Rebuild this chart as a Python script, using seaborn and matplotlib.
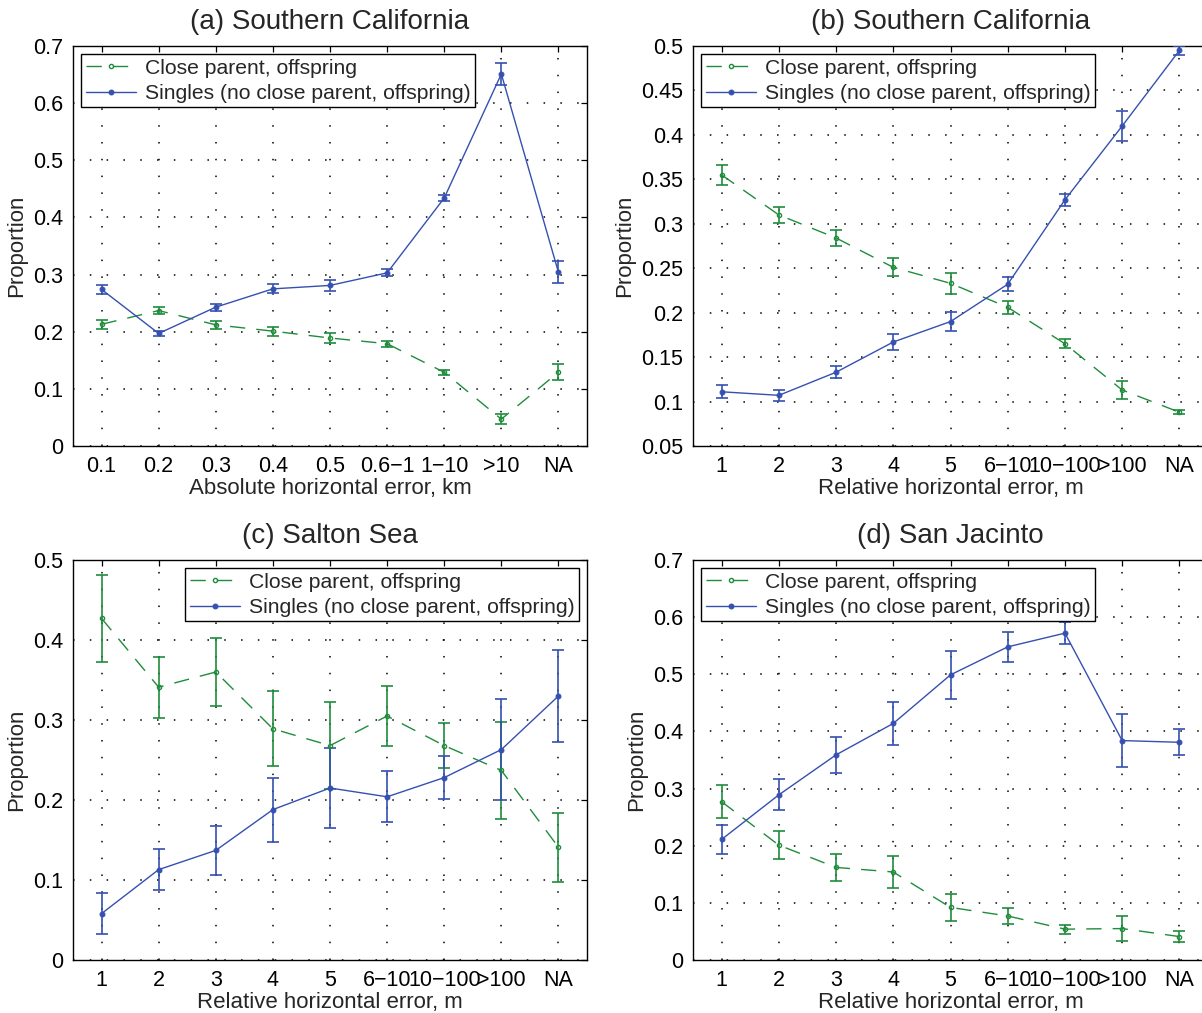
import numpy as np
import pandas as pd
import matplotlib
matplotlib.use("Agg")
import matplotlib.pyplot as plt
import seaborn as sns

# ---------------- data ----------------
labels_abs = ["0.1", "0.2", "0.3", "0.4", "0.5", "0.6\u22121", "1\u221210", ">10", "NA"]
labels_rel = ["1", "2", "3", "4", "5", "6\u221210", "10\u2212100", ">100", "NA"]

a_close = [0.213, 0.237, 0.212, 0.201, 0.189, 0.179, 0.129, 0.047, 0.129]
a_close_err = [0.0075, 0.006, 0.0075, 0.008, 0.009, 0.005, 0.004, 0.009, 0.014]
a_single = [0.274, 0.197, 0.243, 0.275, 0.281, 0.303, 0.434, 0.651, 0.304]
a_single_err = [0.008, 0.005, 0.006, 0.008, 0.010, 0.006, 0.006, 0.019, 0.019]

b_close = [0.355, 0.310, 0.284, 0.251, 0.233, 0.206, 0.165, 0.113, 0.088]
b_close_err = [0.011, 0.009, 0.0094, 0.010, 0.012, 0.0075, 0.005, 0.0105, 0.0025]
b_single = [0.111, 0.107, 0.133, 0.167, 0.190, 0.232, 0.327, 0.410, 0.495]
b_single_err = [0.0075, 0.006, 0.007, 0.009, 0.0105, 0.0077, 0.0066, 0.0165, 0.005]

c_close = [0.427, 0.341, 0.360, 0.289, 0.268, 0.305, 0.268, 0.237, 0.141]
c_close_err = [0.054, 0.038, 0.043, 0.047, 0.054, 0.037, 0.028, 0.061, 0.043]
c_single = [0.058, 0.113, 0.137, 0.188, 0.215, 0.204, 0.228, 0.263, 0.330]
c_single_err = [0.026, 0.0255, 0.031, 0.040, 0.0496, 0.032, 0.0265, 0.063, 0.057]

d_close = [0.277, 0.201, 0.162, 0.154, 0.092, 0.077, 0.054, 0.055, 0.041]
d_close_err = [0.029, 0.024, 0.024, 0.028, 0.024, 0.0134, 0.008, 0.022, 0.009]
d_single = [0.211, 0.289, 0.359, 0.414, 0.499, 0.548, 0.572, 0.384, 0.381]
d_single_err = [0.026, 0.027, 0.031, 0.037, 0.042, 0.026, 0.019, 0.047, 0.023]

titles = ["(a) Southern California", "(b) Southern California",
          "(c) Salton Sea", "(d) San Jacinto"]
xlabels = ["Absolute horizontal error, km", "Relative horizontal error, m",
           "Relative horizontal error, m", "Relative horizontal error, m"]
legend_labels = ["Close parent, offspring", "Singles (no close parent, offspring)"]

# ---------------- style ----------------
sns.set_style("white")
plt.rcParams["font.family"] = ["Liberation Sans", "DejaVu Sans"]
plt.rcParams["axes.unicode_minus"] = True

GREEN = "#1f8c3c"
BLUE = "#3550b0"

W, H = 1202, 1013
fig = plt.figure(figsize=(W / 100, H / 100), dpi=100)


def px_axes(left, top, right, bottom):
    return fig.add_axes([left / W, 1 - bottom / H, (right - left) / W, (bottom - top) / H])


panels = [
    dict(pos=(73, 46, 587, 446), close=a_close, ce=a_close_err, single=a_single, se=a_single_err,
         xt=labels_abs, yl=(0, 0.7), yt=np.arange(0, 0.71, 0.1), leg="upper left"),
    dict(pos=(693, 46, 1208, 446), close=b_close, ce=b_close_err, single=b_single, se=b_single_err,
         xt=labels_rel, yl=(0.05, 0.5), yt=np.arange(0.05, 0.501, 0.05), leg="upper left"),
    dict(pos=(73, 560, 587, 960), close=c_close, ce=c_close_err, single=c_single, se=c_single_err,
         xt=labels_rel, yl=(0, 0.5), yt=np.arange(0, 0.51, 0.1), leg="upper right"),
    dict(pos=(693, 560, 1208, 960), close=d_close, ce=d_close_err, single=d_single, se=d_single_err,
         xt=labels_rel, yl=(0, 0.7), yt=np.arange(0, 0.71, 0.1), leg="upper left"),
]

for i, p in enumerate(panels):
    ax = px_axes(*p["pos"])
    x = np.arange(1, 10)
    df = pd.DataFrame({"x": x, "close": p["close"], "single": p["single"]})

    ax.errorbar(x, p["close"], yerr=p["ce"], fmt="none", ecolor=GREEN, elinewidth=1.2,
                capsize=4, capthick=1.2, zorder=3)
    ax.errorbar(x, p["single"], yerr=p["se"], fmt="none", ecolor=BLUE, elinewidth=1.2,
                capsize=4, capthick=1.2, zorder=3)

    sns.lineplot(data=df, x="x", y="close", ax=ax, color=GREEN, errorbar=None,
                 linewidth=1.0, linestyle=(0, (11, 8)), marker="o", markersize=3,
                 markerfacecolor="none", markeredgecolor=GREEN, markeredgewidth=1.0,
                 label=legend_labels[0], zorder=4)
    sns.lineplot(data=df, x="x", y="single", ax=ax, color=BLUE, errorbar=None,
                 linewidth=1.0, marker="o", markersize=3.5, markerfacecolor=BLUE,
                 markeredgecolor=BLUE, label=legend_labels[1], zorder=4)

    ax.set_xlim(0.5, 9.5)
    ax.set_ylim(*p["yl"])
    ax.set_xticks(x)
    ax.set_xticklabels(p["xt"])
    ax.set_yticks(p["yt"])
    ax.set_yticklabels(["%g" % round(v, 2) for v in p["yt"]])

    ax.grid(True, linestyle=(0, (1, 10)), color="black", linewidth=1.1)
    ax.set_axisbelow(True)
    ax.tick_params(direction="in", top=True, right=True, length=4, width=0.9,
                   labelsize=15.5, colors="black", pad=7)
    for s in ax.spines.values():
        s.set_color("black")
        s.set_linewidth(1.0)

    ax.set_title(titles[i], fontsize=20, pad=12)
    ax.set_xlabel(xlabels[i], fontsize=16, labelpad=1)
    ax.set_ylabel("Proportion", fontsize=16, labelpad=4)

    leg = ax.legend(loc=p["leg"], fontsize=15.2, frameon=True, fancybox=False,
                    edgecolor="black", framealpha=1, handlelength=2.4,
                    borderpad=0.2, labelspacing=0.3, handletextpad=0.4,
                    borderaxespad=0.4)
    leg.get_frame().set_linewidth(1.0)

fig.savefig("out.png", dpi=100)
